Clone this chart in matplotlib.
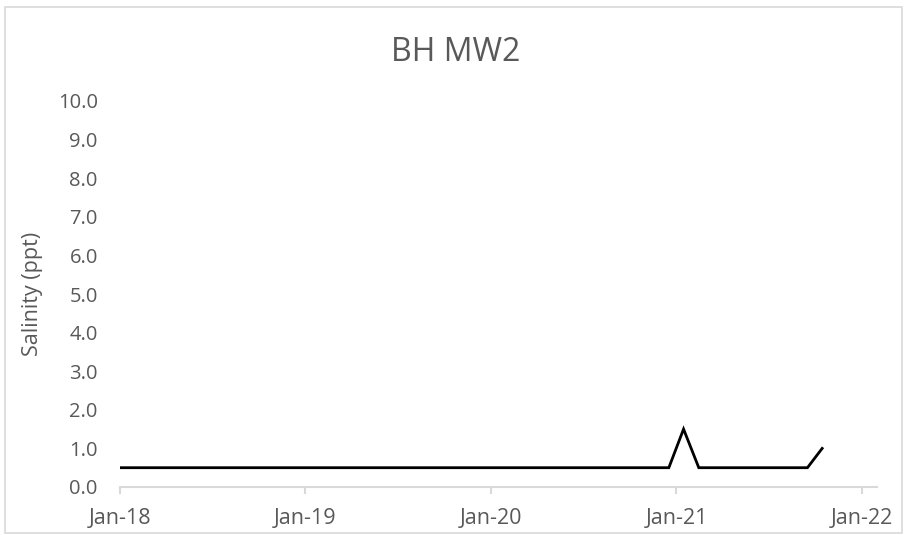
import numpy as np
import matplotlib
matplotlib.use('Agg')
import matplotlib.pyplot as plt
import matplotlib.dates as mdates
from matplotlib.patches import Rectangle
import datetime as dt

plt.rcParams['font.family'] = ['Open Sans', 'DejaVu Sans']

kGray = '#595959'
kAxisGray = '#d9d9d9'

# sample dates and salinity readings (ppt)
dates = ['2018-01-01', '2018-04-15', '2018-07-15', '2018-10-15',
         '2019-01-15', '2019-04-15', '2019-07-15', '2019-10-15',
         '2020-01-15', '2020-04-15', '2020-07-15', '2020-10-15',
         '2020-12-17', '2021-01-15', '2021-02-14', '2021-09-16',
         '2021-10-15']
salinity = [0.5, 0.5, 0.5, 0.5,
            0.5, 0.5, 0.5, 0.5,
            0.5, 0.5, 0.5, 0.5,
            0.5, 1.5, 0.5, 0.5,
            1.0]
yticks = [0.0, 1.0, 2.0, 3.0, 4.0, 5.0, 6.0, 7.0, 8.0, 9.0, 10.0]
xtick_dates = ['2018-01-01', '2019-01-01', '2020-01-01', '2021-01-01', '2022-01-01']

x = [dt.datetime.strptime(d, '%Y-%m-%d') for d in dates]
xt = [dt.datetime.strptime(d, '%Y-%m-%d') for d in xtick_dates]

fig = plt.figure(figsize=(9.05, 5.35), dpi=100)
W, H = 905.0, 535.0
ax = fig.add_axes([120/W, 1-487/H, (877-120)/W, (487-101)/H])

ax.plot(x, salinity, color='black', lw=2.0, solid_joinstyle='miter')

ax.set_ylim(0, 10)
ax.set_xlim(dt.datetime(2018, 1, 1), dt.datetime(2022, 1, 31))
ax.set_yticks(yticks)
ax.set_yticklabels(['%.1f' % v for v in yticks])
ax.set_xticks(xt)
ax.xaxis.set_major_formatter(mdates.DateFormatter('%b-%y'))

for s in ['top', 'right', 'left']:
  ax.spines[s].set_visible(False)
ax.spines['bottom'].set_color(kAxisGray)
ax.spines['bottom'].set_linewidth(1.5)
ax.tick_params(axis='x', colors=kAxisGray, length=5, width=1.5, labelcolor=kGray, labelsize=15.5, pad=10)
ax.tick_params(axis='y', length=0, labelcolor=kGray, labelsize=14.5, pad=16)

ax.set_ylabel('Salinity (ppt)', color=kGray, fontsize=15.5)
ax.yaxis.set_label_coords(-0.102, 0.5)
fig.text(456/W, 1-52/H, 'BH MW2', ha='center', va='center', fontsize=23, color=kGray)

fig.patches.append(Rectangle((5/W, 2/H), 897/W, 526/H, transform=fig.transFigure,
                             fill=False, edgecolor=kAxisGray, lw=1.2))

fig.savefig('out.png', dpi=100)
